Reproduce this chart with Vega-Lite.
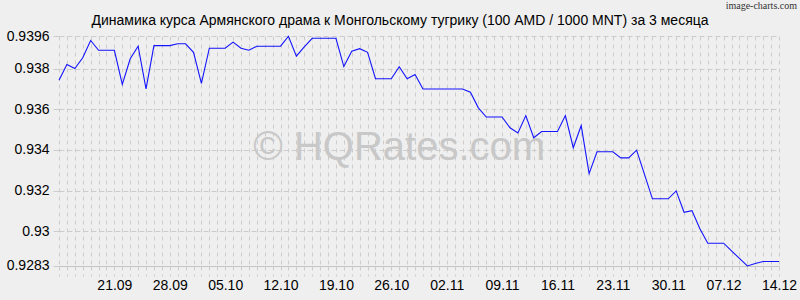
{
  "$schema": "https://vega.github.io/schema/vega-lite/v6.json",
  "width": 720,
  "height": 230,
  "autosize": {"type": "none"},
  "padding": {"left": 59, "top": 36, "right": 21, "bottom": 34},
  "background": "#efefef",
  "config": {
    "view": {"stroke": null, "fill": "#efefef"},
    "font": "Liberation Sans",
    "axisX": {
      "title": null,
      "tickCount": {"interval": "day", "step": 1},
      "labelExpr": "utcday(datum.value) == 4 && !(utcmonth(datum.value) == 8 && utcdate(datum.value) == 14) ? utcFormat(datum.value, '%d.%m') : ''",
      "labelOverlap": false,
      "labelFlush": false,
      "labelFontSize": 14,
      "labelColor": "#000000",
      "labelPadding": 2,
      "grid": true,
      "gridColor": "#cccccc",
      "gridDash": [4, 4],
      "ticks": true,
      "tickSize": 10,
      "tickColor": "#cccccc",
      "tickDash": [4, 4],
      "domain": true,
      "domainColor": "#c4c4c4"
    },
    "axisY": {
      "title": null,
      "format": ".4~f",
      "labelFontSize": 14,
      "labelColor": "#000000",
      "labelPadding": 4,
      "labelOverlap": false,
      "labelFlush": false,
      "grid": true,
      "gridColor": "#cccccc",
      "gridDash": [5, 3],
      "ticks": true,
      "tickSize": 6,
      "tickColor": "#cccccc",
      "domain": false
    }
  },
  "title": {"text": "Динамика курса Армянского драма к Монгольскому тугрику (100 AMD / 1000 MNT) за 3 месяца", "fontSize": 14, "fontWeight": "normal", "color": "#000000", "anchor": "middle", "dx": -19, "offset": -27, "font": "Liberation Sans"},
  "layer": [
    {
      "data": {"values": [{"t": "© HQRates.com"}]},
      "mark": {"type": "text", "fontSize": 40, "color": "#c8c8c8", "font": "Liberation Sans"},
      "encoding": {
        "x": {"datum": {"year": 2023, "month": 10, "date": 27, "utc": true}, "type": "temporal"},
        "y": {"datum": 0.93412, "type": "quantitative", "axis": {"values": [0.9283, 0.93, 0.932, 0.934, 0.936, 0.938, 0.9396], "format": ".4~f"}},
        "text": {"field": "t"}
      }
    },
    {
      "data": {"values": [
        {"date": "2023-09-14", "rate": 0.93743},
        {"date": "2023-09-15", "rate": 0.93820},
        {"date": "2023-09-16", "rate": 0.93800},
        {"date": "2023-09-17", "rate": 0.93853},
        {"date": "2023-09-18", "rate": 0.93938},
        {"date": "2023-09-19", "rate": 0.93890},
        {"date": "2023-09-20", "rate": 0.93890},
        {"date": "2023-09-21", "rate": 0.93890},
        {"date": "2023-09-22", "rate": 0.93722},
        {"date": "2023-09-23", "rate": 0.93848},
        {"date": "2023-09-24", "rate": 0.93910},
        {"date": "2023-09-25", "rate": 0.93700},
        {"date": "2023-09-26", "rate": 0.93913},
        {"date": "2023-09-27", "rate": 0.93913},
        {"date": "2023-09-28", "rate": 0.93913},
        {"date": "2023-09-29", "rate": 0.93922},
        {"date": "2023-09-30", "rate": 0.93922},
        {"date": "2023-10-01", "rate": 0.93880},
        {"date": "2023-10-02", "rate": 0.93727},
        {"date": "2023-10-03", "rate": 0.93900},
        {"date": "2023-10-04", "rate": 0.93900},
        {"date": "2023-10-05", "rate": 0.93900},
        {"date": "2023-10-06", "rate": 0.93930},
        {"date": "2023-10-07", "rate": 0.93900},
        {"date": "2023-10-08", "rate": 0.93890},
        {"date": "2023-10-09", "rate": 0.93910},
        {"date": "2023-10-10", "rate": 0.93910},
        {"date": "2023-10-11", "rate": 0.93910},
        {"date": "2023-10-12", "rate": 0.93910},
        {"date": "2023-10-13", "rate": 0.93959},
        {"date": "2023-10-14", "rate": 0.93861},
        {"date": "2023-10-15", "rate": 0.93907},
        {"date": "2023-10-16", "rate": 0.93949},
        {"date": "2023-10-17", "rate": 0.93949},
        {"date": "2023-10-18", "rate": 0.93949},
        {"date": "2023-10-19", "rate": 0.93949},
        {"date": "2023-10-20", "rate": 0.93810},
        {"date": "2023-10-21", "rate": 0.93885},
        {"date": "2023-10-22", "rate": 0.93898},
        {"date": "2023-10-23", "rate": 0.93880},
        {"date": "2023-10-24", "rate": 0.93750},
        {"date": "2023-10-25", "rate": 0.93750},
        {"date": "2023-10-26", "rate": 0.93750},
        {"date": "2023-10-27", "rate": 0.93809},
        {"date": "2023-10-28", "rate": 0.93750},
        {"date": "2023-10-29", "rate": 0.93771},
        {"date": "2023-10-30", "rate": 0.93700},
        {"date": "2023-10-31", "rate": 0.93700},
        {"date": "2023-11-01", "rate": 0.93700},
        {"date": "2023-11-02", "rate": 0.93700},
        {"date": "2023-11-03", "rate": 0.93700},
        {"date": "2023-11-04", "rate": 0.93700},
        {"date": "2023-11-05", "rate": 0.93684},
        {"date": "2023-11-06", "rate": 0.93607},
        {"date": "2023-11-07", "rate": 0.93562},
        {"date": "2023-11-08", "rate": 0.93562},
        {"date": "2023-11-09", "rate": 0.93562},
        {"date": "2023-11-10", "rate": 0.93509},
        {"date": "2023-11-11", "rate": 0.93484},
        {"date": "2023-11-12", "rate": 0.93569},
        {"date": "2023-11-13", "rate": 0.93460},
        {"date": "2023-11-14", "rate": 0.93491},
        {"date": "2023-11-15", "rate": 0.93491},
        {"date": "2023-11-16", "rate": 0.93491},
        {"date": "2023-11-17", "rate": 0.93569},
        {"date": "2023-11-18", "rate": 0.93411},
        {"date": "2023-11-19", "rate": 0.93520},
        {"date": "2023-11-20", "rate": 0.93284},
        {"date": "2023-11-21", "rate": 0.93391},
        {"date": "2023-11-22", "rate": 0.93391},
        {"date": "2023-11-23", "rate": 0.93391},
        {"date": "2023-11-24", "rate": 0.93361},
        {"date": "2023-11-25", "rate": 0.93361},
        {"date": "2023-11-26", "rate": 0.93399},
        {"date": "2023-11-27", "rate": 0.93280},
        {"date": "2023-11-28", "rate": 0.93160},
        {"date": "2023-11-29", "rate": 0.93160},
        {"date": "2023-11-30", "rate": 0.93160},
        {"date": "2023-12-01", "rate": 0.93199},
        {"date": "2023-12-02", "rate": 0.93094},
        {"date": "2023-12-03", "rate": 0.93102},
        {"date": "2023-12-04", "rate": 0.93013},
        {"date": "2023-12-05", "rate": 0.92942},
        {"date": "2023-12-06", "rate": 0.92942},
        {"date": "2023-12-07", "rate": 0.92942},
        {"date": "2023-12-08", "rate": 0.92904},
        {"date": "2023-12-09", "rate": 0.92867},
        {"date": "2023-12-10", "rate": 0.92830},
        {"date": "2023-12-11", "rate": 0.92842},
        {"date": "2023-12-12", "rate": 0.92852},
        {"date": "2023-12-13", "rate": 0.92852},
        {"date": "2023-12-14", "rate": 0.92852}
      ]},
      "mark": {"type": "line", "color": "#1414ff", "strokeWidth": 1.1},
      "encoding": {
        "x": {
          "field": "date", "type": "temporal",
          "scale": {"type": "utc", "nice": false, "domain": [{"year": 2023, "month": 9, "date": 14, "utc": true}, {"year": 2023, "month": 12, "date": 14, "utc": true}]}
        },
        "y": {
          "field": "rate", "type": "quantitative",
          "scale": {"domain": [0.928299, 0.939601], "nice": false, "zero": false},
          "axis": {"values": [0.9283, 0.93, 0.932, 0.934, 0.936, 0.938, 0.9396], "format": ".4~f"}
        }
      }
    },
    {
      "data": {"values": [{"t": "image-charts.com"}]},
      "mark": {"type": "text", "fontSize": 10, "color": "#333333", "align": "right", "baseline": "top", "dx": 18, "dy": -35, "font": "Liberation Sans Narrow"},
      "encoding": {
        "x": {"datum": {"year": 2023, "month": 12, "date": 14, "utc": true}, "type": "temporal"},
        "y": {"datum": 0.9396, "type": "quantitative", "axis": {"values": [0.9283, 0.93, 0.932, 0.934, 0.936, 0.938, 0.9396], "format": ".4~f"}},
        "text": {"field": "t"}
      }
    }
  ]
}
